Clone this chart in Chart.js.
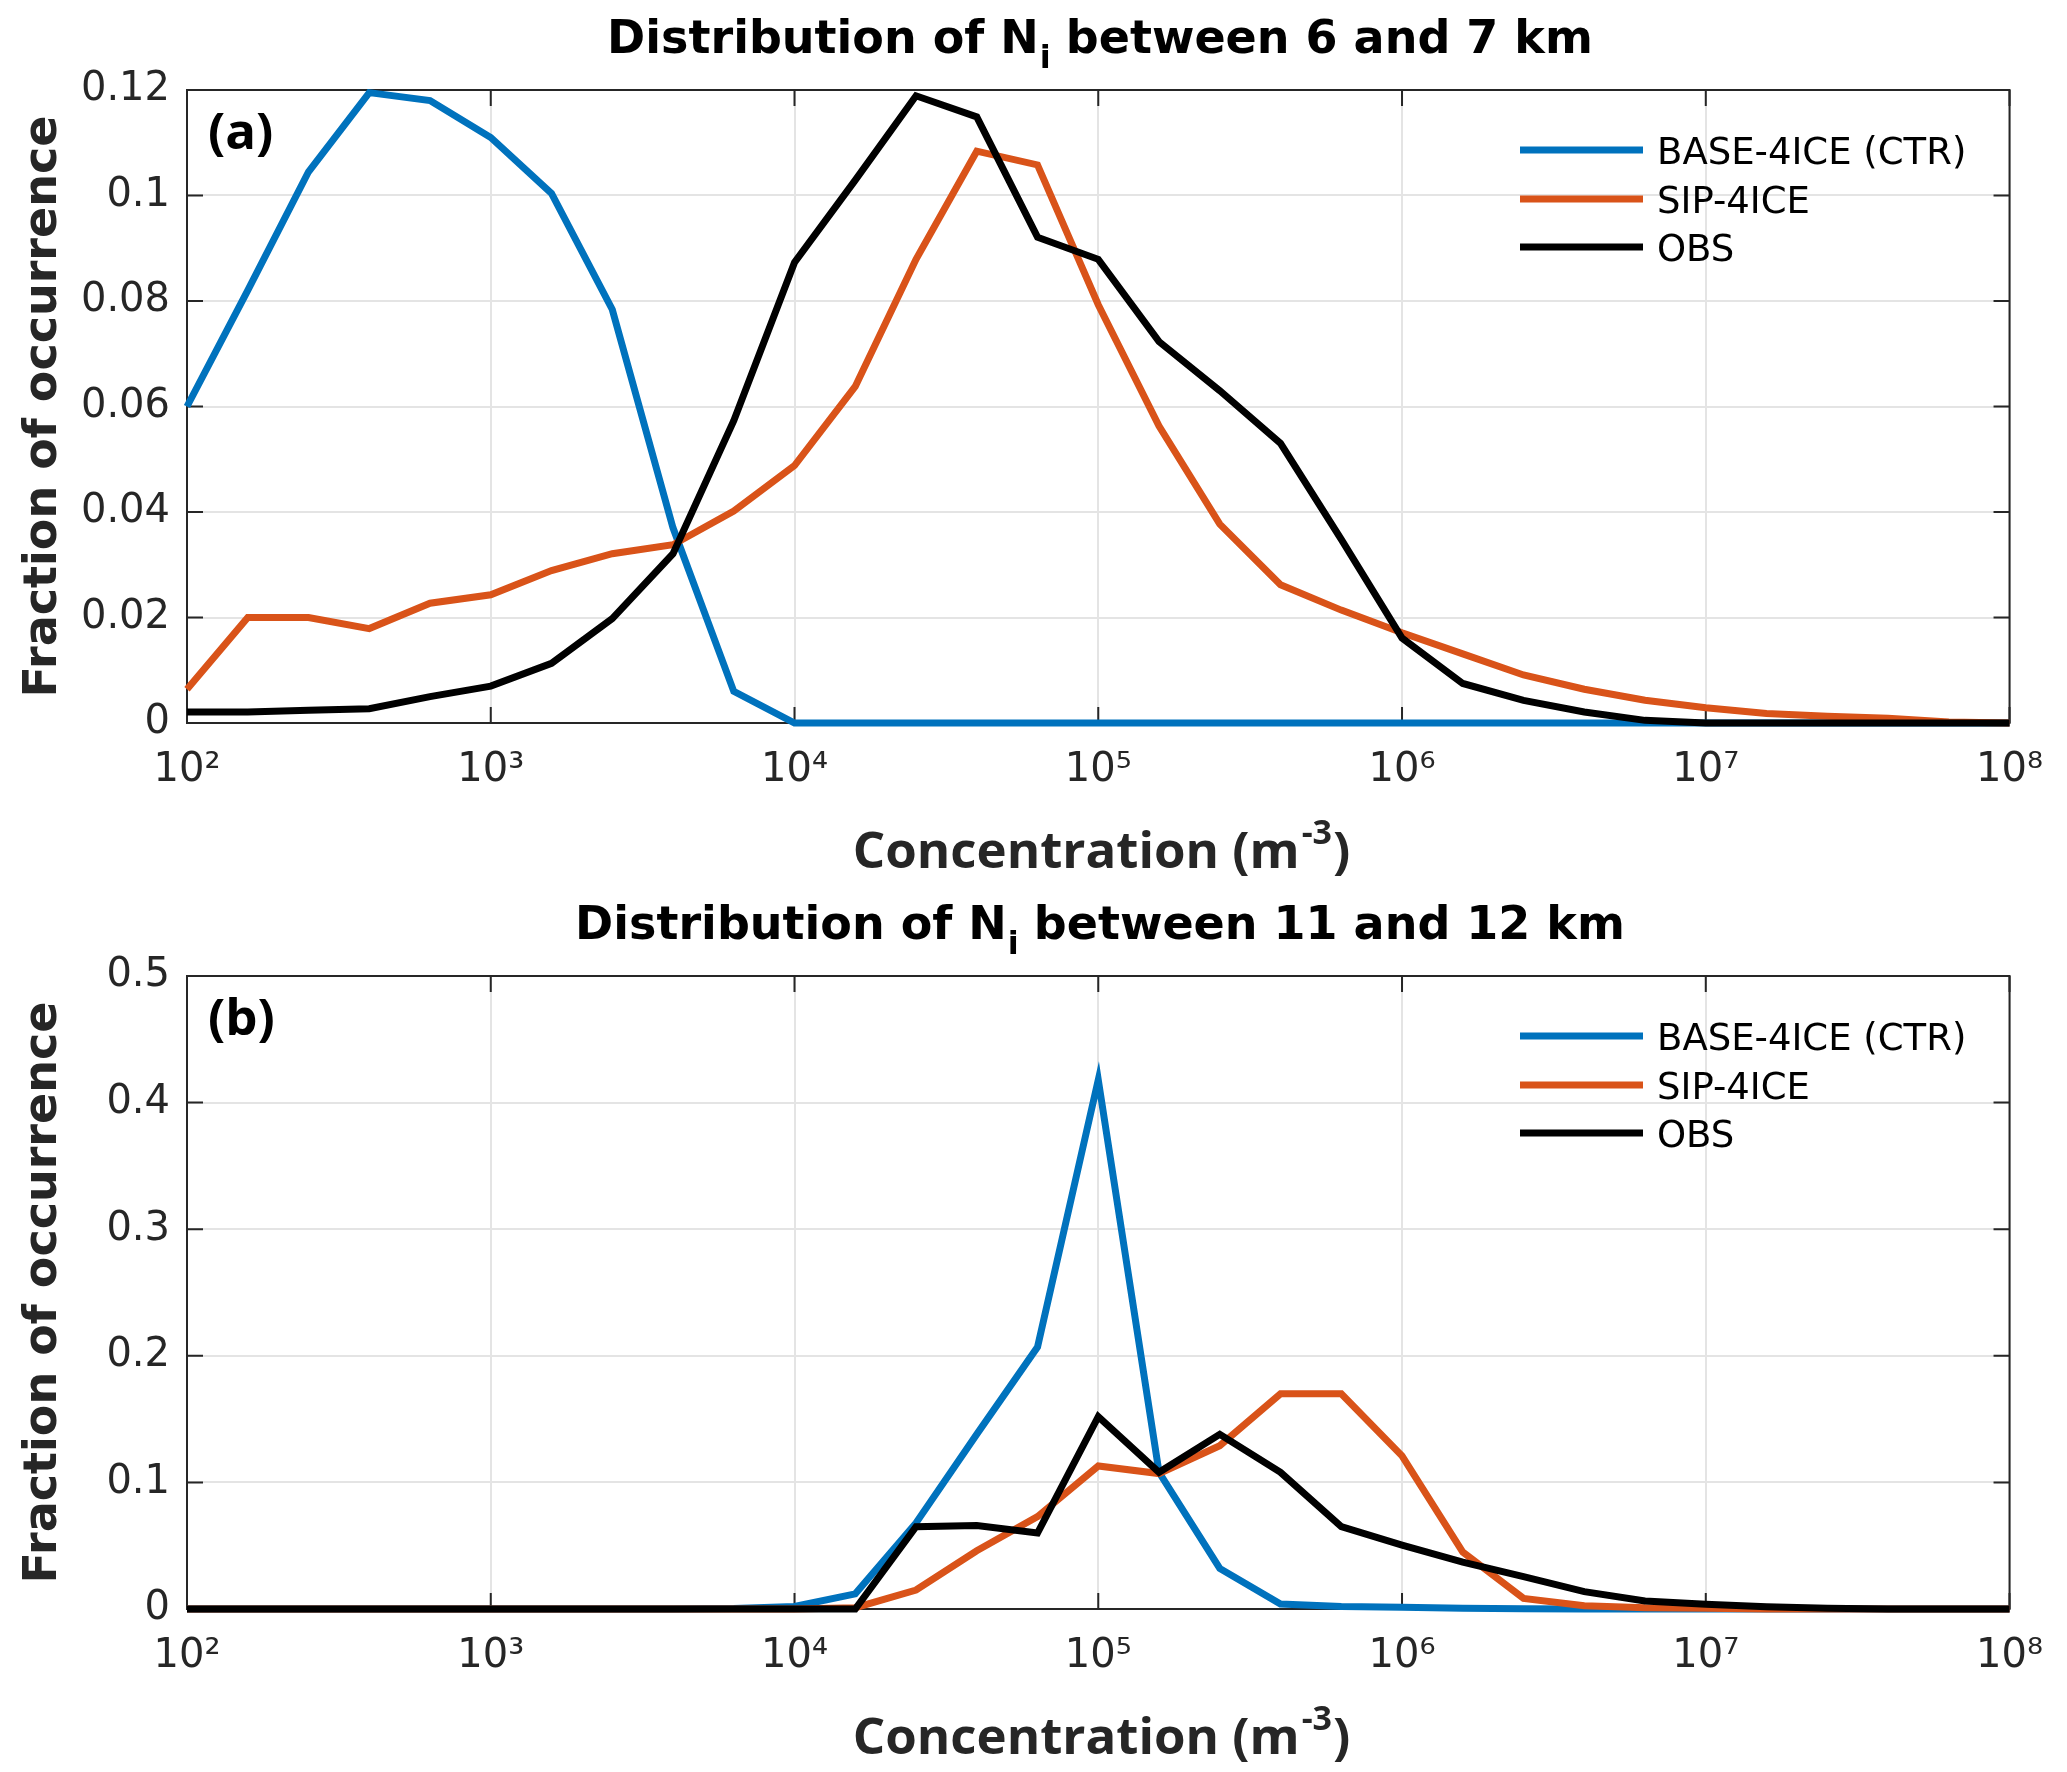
<!DOCTYPE html>
<html><head><meta charset="utf-8">
<script src="https://cdn.jsdelivr.net/npm/chart.js@4.4.1/dist/chart.umd.min.js"></script>
<style>
html,body{margin:0;padding:0;background:#fff;}
body{width:2067px;height:1772px;position:relative;overflow:hidden;}
canvas{position:absolute;left:0;}
</style></head><body>
<canvas id="c1" width="2067" height="886" style="top:0;width:2067px;height:886px"></canvas>
<canvas id="c2" width="2067" height="886" style="top:886px;width:2067px;height:886px"></canvas>
<script>
// ---- data ----
const concentration = [1.000e2,1.585e2,2.512e2,3.981e2,6.310e2,
  1.000e3,1.585e3,2.512e3,3.981e3,6.310e3,
  1.000e4,1.585e4,2.512e4,3.981e4,6.310e4,
  1.000e5,1.585e5,2.512e5,3.981e5,6.310e5,
  1.000e6,1.585e6,2.512e6,3.981e6,6.310e6,
  1.000e7,1.585e7,2.512e7,3.981e7,6.310e7,1.000e8];
const seriesNames = ['BASE-4ICE (CTR)','SIP-4ICE','OBS'];
const seriesColors = ['#0072BD','#D95319','#000000'];

// panel (a): 6-7 km
const base6to7 = [0.060,0.082,0.1045,0.1195,0.118,0.111,0.1004,0.0784,0.037,0.006,
  0,0,0,0,0,0,0,0,0,0,0,0,0,0,0,0,0,0,0,0,0];
const sip6to7 = [0.0064,0.020,0.020,0.0179,0.0227,0.0243,0.0289,0.0321,0.0338,0.0402,
  0.0488,0.0638,0.0879,0.1084,0.1058,0.0793,0.0563,0.0377,0.0262,0.0214,
  0.0171,0.0131,0.0091,0.0064,0.0043,0.0029,0.0018,0.0013,0.0009,0.0002,0];
const obs6to7 = [0.0021,0.0021,0.0024,0.0027,0.005,0.007,0.0113,0.0198,0.0321,0.0573,
  0.0873,0.1029,0.1189,0.1149,0.0921,0.0879,0.0723,0.063,0.053,0.0348,
  0.0161,0.0075,0.0043,0.0021,0.0005,0,0,0,0,0,0];

// panel (b): 11-12 km
const base11to12 = [0,0,0,0,0,0,0,0,0,0.0003,
  0.002,0.012,0.068,0.138,0.207,0.418,0.108,0.032,0.004,0.002,
  0.0013,0.0005,0.0001,0,0,0,0,0,0,0,0];
const sip11to12 = [0,0,0,0,0,0,0,0,0,0,
  0,0.001,0.015,0.046,0.073,0.113,0.107,0.129,0.170,0.170,
  0.121,0.045,0.0084,0.0026,0.001,0.0005,0,0,0,0,0];
const obs11to12 = [0,0,0,0,0,0,0,0,0,0,
  0,0,0.065,0.066,0.060,0.152,0.108,0.138,0.108,0.065,
  0.0505,0.037,0.0255,0.0137,0.0063,0.0037,0.0018,0.0005,0,0,0];

const xTickValues = [1e2,1e3,1e4,1e5,1e6,1e7,1e8];
const xTickExponents = ['2','3','4','5','6','7','8'];
const yTicksA = [0,0.02,0.04,0.06,0.08,0.1,0.12];
const yTicksB = [0,0.1,0.2,0.3,0.4,0.5];

// ---- helpers ----
const SUP = {'0':'\u2070','1':'\u00B9','2':'\u00B2','3':'\u00B3','4':'\u2074','5':'\u2075','6':'\u2076','7':'\u2077','8':'\u2078','9':'\u2079'};
const AX = '#262626';
const PLOT_L = 187, PLOT_R = 2013, PLOT_T = 90, PLOT_B = 723, CH = 886, CW = 2067;

function pts(vals){ return vals.map((v,i)=>({x:concentration[i], y:v})); }

const decor = {
  id:'decor',
  beforeDatasetsDraw(chart, args, o){
    const ctx = chart.ctx, a = chart.chartArea;
    ctx.save();
    ctx.strokeStyle = AX; ctx.lineWidth = 2;
    ctx.strokeRect(a.left, a.top, a.right-a.left, a.bottom-a.top);
    const tl = 16;
    const xs = chart.scales.x, ys = chart.scales.y;
    ctx.beginPath();
    xs.ticks.forEach(t=>{ const px = xs.getPixelForValue(t.value);
      ctx.moveTo(px,a.bottom); ctx.lineTo(px,a.bottom-tl);
      ctx.moveTo(px,a.top); ctx.lineTo(px,a.top+tl); });
    ys.ticks.forEach(t=>{ const py = ys.getPixelForValue(t.value);
      ctx.moveTo(a.left,py); ctx.lineTo(a.left+tl,py);
      ctx.moveTo(a.right,py); ctx.lineTo(a.right-tl,py); });
    ctx.stroke();
    ctx.restore();
  },
  afterDraw(chart, args, o){
    const ctx = chart.ctx, a = chart.chartArea;
    ctx.save();
    // title with subscript
    ctx.fillStyle = '#000';
    const fT = 'bold 46px "DejaVu Sans"', fS = 'bold 32px "DejaVu Sans"';
    ctx.font = fT; const w1 = ctx.measureText(o.t1).width, w3 = ctx.measureText(o.t3).width;
    ctx.font = fS; const w2 = ctx.measureText('i').width;
    let x = 1100 - (w1+w2+w3)/2, yb = 53;
    ctx.textBaseline = 'alphabetic'; ctx.textAlign = 'left';
    ctx.font = fT; ctx.fillText(o.t1, x, yb); x += w1;
    ctx.font = fS; ctx.fillText('i', x+1, yb+15); x += w2;
    ctx.font = fT; ctx.fillText(o.t3, x, yb);
    // x axis title with superscript
    ctx.fillStyle = AX;
    const fX = 'bold 51px "Open Sans"', fXs = 'bold 34px "Open Sans"';
    const xt = 'Concentration (m', xs1 = '-3', xt2 = ')';
    ctx.font = fX; const a1 = ctx.measureText(xt).width, a3 = ctx.measureText(xt2).width;
    ctx.font = fXs; const a2 = ctx.measureText(xs1).width;
    x = 1100 - (a1+a2+a3)/2; yb = 868;
    ctx.font = fX; ctx.fillText(xt, x, yb); x += a1;
    ctx.font = fXs; ctx.fillText(xs1, x+2, yb-24); x += a2 + 3;
    ctx.font = fX; ctx.fillText(xt2, x, yb);
    // y axis title
    ctx.save();
    ctx.translate(56, (a.top+a.bottom)/2);
    ctx.rotate(-Math.PI/2);
    ctx.font = 'bold 46px "DejaVu Sans"'; ctx.textAlign = 'center'; ctx.textBaseline = 'alphabetic';
    ctx.fillText('Fraction of occurrence', 0, 0);
    ctx.restore();
    // panel label
    ctx.fillStyle = '#000';
    ctx.font = 'bold 51px "Open Sans"'; ctx.textAlign = 'left'; ctx.textBaseline = 'alphabetic';
    ctx.fillText(o.label, 208, 149);
    // legend
    const rows = [150,199,247];
    chart.data.datasets.forEach((ds,i)=>{
      const y = rows[i];
      ctx.strokeStyle = ds.borderColor; ctx.lineWidth = 7; ctx.lineCap = 'butt';
      ctx.beginPath(); ctx.moveTo(1520,y); ctx.lineTo(1643,y); ctx.stroke();
      ctx.fillStyle = '#000'; ctx.font = '37px "DejaVu Sans"';
      ctx.fillText(ds.label, 1657, y+13.5);
    });
    ctx.restore();
  }
};

function makeChart(id, series, yMax, yTicks, t1, t3, label){
  const datasets = series.map((vals,i)=>({
    label: seriesNames[i], data: pts(vals), borderColor: seriesColors[i],
    backgroundColor: seriesColors[i], borderWidth: 7, pointRadius: 0,
    tension: 0, fill: false, order: 2-i, borderJoinStyle:'miter', clip: 4
  }));
  return new Chart(document.getElementById(id), {
    type:'line',
    data:{datasets},
    options:{
      responsive:false, animation:false, devicePixelRatio:1,
      layout:{padding:{left:0,right:CW-PLOT_R,top:PLOT_T,bottom:0}},
      plugins:{legend:{display:false}, title:{display:false}, tooltip:{enabled:false},
        decor:{t1, t3, label}},
      scales:{
        x:{type:'logarithmic', min:1e2, max:1e8, position:'bottom',
          afterBuildTicks(s){ s.ticks = xTickValues.map(v=>({value:v})); },
          afterFit(s){ s.height = CH - PLOT_B; },
          grid:{color:'#e4e4e4', lineWidth:2, drawTicks:false},
          border:{display:false},
          ticks:{autoSkip:false, maxRotation:0, padding:24, color:AX,
            font:{family:'DejaVu Sans', size:40},
            callback(v){ const i = xTickValues.indexOf(v); return i<0 ? '' : '10' + SUP[xTickExponents[i]]; }}
        },
        y:{type:'linear', min:0, max:yMax,
          afterBuildTicks(s){ s.ticks = yTicks.map(v=>({value:v})); },
          afterFit(s){ s.width = PLOT_L; },
          grid:{color:'#e4e4e4', lineWidth:2, drawTicks:false},
          border:{display:false},
          ticks:{padding:17, color:AX, font:{family:'DejaVu Sans', size:40},
            callback(v){ return String(Number(v.toFixed(2))); }}
        }
      }
    },
    plugins:[decor]
  });
}

makeChart('c1', [base6to7, sip6to7, obs6to7], 0.12, yTicksA,
  'Distribution of N', ' between 6 and 7 km', '(a)');
makeChart('c2', [base11to12, sip11to12, obs11to12], 0.5, yTicksB,
  'Distribution of N', ' between 11 and 12 km', '(b)');
</script>
</body></html>
